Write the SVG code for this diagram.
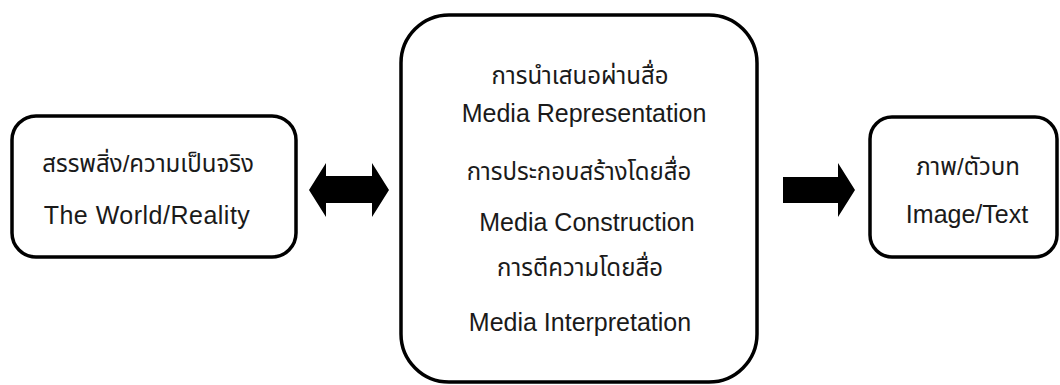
<svg xmlns="http://www.w3.org/2000/svg" width="1060" height="385" viewBox="0 0 1060 385">
<style>
.box{fill:none;stroke:#000;stroke-width:3.5}
.t{font-family:"Liberation Sans","Noto Sans Thai","Noto Sans",sans-serif;font-size:24px;fill:#1a1a1a;text-anchor:middle}
.en{font-size:25px}
.arr{fill:#000;stroke:none}
</style>
<rect width="1060" height="385" fill="#fff"/>
<g id="world">
<rect class="box" x="12" y="116" width="284" height="141" rx="24"/>
<text class="t" x="148" y="172">สรรพสิ่ง/ความเป็นจริง</text>
<text class="t en" x="147" y="224" letter-spacing="0.5">The World/Reality</text>
</g>
<g id="media">
<rect class="box" x="401" y="15" width="356" height="367" rx="48"/>
<text class="t" x="580" y="84">การนำเสนอผ่านสื่อ</text>
<text class="t en" x="584" y="122">Media Representation</text>
<text class="t" x="579" y="180">การประกอบสร้างโดยสื่อ</text>
<text class="t en" x="587" y="231">Media Construction</text>
<text class="t" x="580" y="276">การตีความโดยสื่อ</text>
<text class="t en" x="580" y="331">Media Interpretation</text>
</g>
<g id="image">
<rect class="box" x="870" y="117" width="187" height="140" rx="22"/>
<text class="t" x="968" y="175">ภาพ/ตัวบท</text>
<text class="t en" x="967" y="223">Image/Text</text>
</g>
<g id="connectors">
<polygon class="arr" points="309,190 326,163 326,176 372,176 372,163 389,190 372,217 372,203 326,203 326,217"/>
<polygon class="arr" points="783,177 838,177 838,163 855,190 838,217 838,203 783,203"/>
</g>
</svg>
